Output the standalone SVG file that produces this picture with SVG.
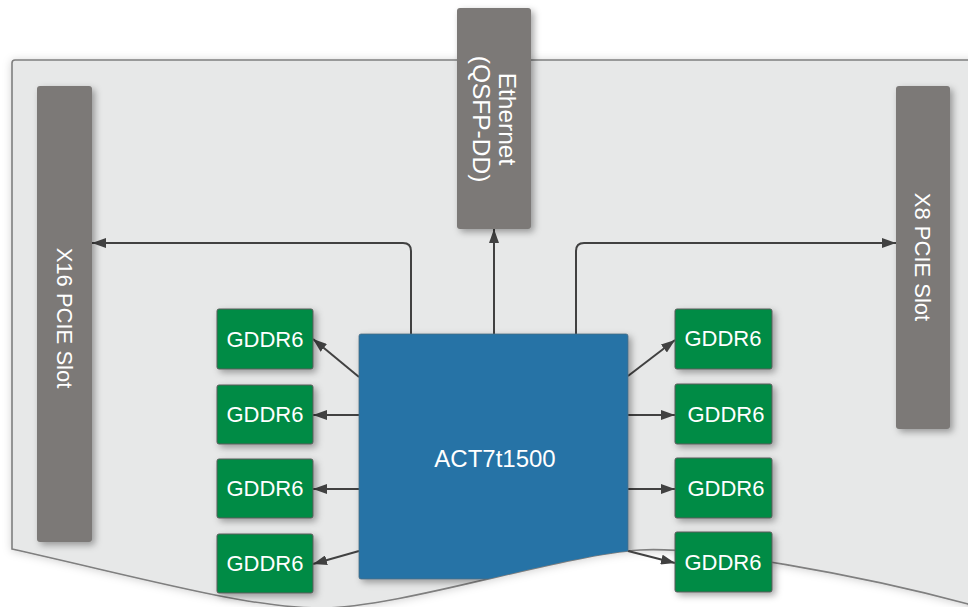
<svg xmlns="http://www.w3.org/2000/svg" width="968" height="607" viewBox="0 0 968 607">
<defs>
<style>
.txt{font-family:"Liberation Sans","DejaVu Sans",sans-serif;fill:#ffffff;}
.slot{fill:#7b7977;}
.mem{fill:#038b44;stroke:#5a5a5a;stroke-width:1;}
.conn{fill:none;stroke:#414141;stroke-width:2;}
</style>
<filter id="sh" x="-30%" y="-30%" width="160%" height="160%">
<feDropShadow dx="3" dy="3" stdDeviation="3.5" flood-color="#000" flood-opacity="0.35"/>
</filter>
<filter id="bsh" x="-10%" y="-10%" width="120%" height="120%">
<feDropShadow dx="0" dy="1" stdDeviation="4" flood-color="#000" flood-opacity="0.18"/>
</filter>
<marker id="arr" viewBox="0 0 14 10" refX="14" refY="5" markerWidth="14" markerHeight="10" markerUnits="userSpaceOnUse" orient="auto">
<path d="M0,0 L14,5 L0,10 Z" fill="#414141"/>
</marker>
<clipPath id="boardClip">
<path d="M12,63 Q12,60 15,60 L990,60 L990,620 L968,604 C860,575 700,546 640,550 C560,555 400,608 320,608 C250,608 150,580 12,549 Z"/>
</clipPath>
</defs>
<rect x="0" y="0" width="968" height="607" fill="#ffffff"/>
<g id="board">
<path d="M12,63 Q12,60 15,60 L990,60 L990,640 L968,604 C860,575 700,546 640,550 C560,555 400,608 320,608 C250,608 150,580 12,549 Z" fill="#e7e8e8" stroke="#7f7f7f" stroke-width="1.6" filter="url(#bsh)"/>
</g>
<g id="connectors">
<path class="conn" d="M411,334 L411,251 Q411,243 403,243 L92,243" marker-end="url(#arr)"/>
<path class="conn" d="M494,334 L494,229" marker-end="url(#arr)"/>
<path class="conn" d="M576,334 L576,251 Q576,243 584,243 L896,243" marker-end="url(#arr)"/>
<path class="conn" d="M359,377 L313,339" marker-end="url(#arr)"/>
<path class="conn" d="M359,415 L313,415" marker-end="url(#arr)"/>
<path class="conn" d="M359,489 L313,489" marker-end="url(#arr)"/>
<path class="conn" d="M359,551 L313,564" marker-end="url(#arr)"/>
<path class="conn" d="M628,376 L675,340" marker-end="url(#arr)"/>
<path class="conn" d="M628,415 L675,415" marker-end="url(#arr)"/>
<path class="conn" d="M628,489 L675,489" marker-end="url(#arr)"/>
<path class="conn" d="M628,551 L675,563" marker-end="url(#arr)"/>
</g>
<g id="x16-slot">
<rect class="slot" x="37" y="86" width="55" height="456" rx="3" filter="url(#sh)"/>
<text class="txt" font-size="22" text-anchor="middle" dominant-baseline="central" transform="translate(64,318) rotate(90)">X16 PCIE Slot</text>
</g>
<g id="ethernet">
<rect class="slot" x="457" y="8" width="74" height="221" rx="3" filter="url(#sh)"/>
<text class="txt" font-size="24.5" text-anchor="middle" dominant-baseline="central" transform="translate(495,119) rotate(90)"><tspan x="0" y="-13">Ethernet</tspan><tspan x="0" y="13">(QSFP-DD)</tspan></text>
</g>
<g id="x8-slot">
<rect class="slot" x="896" y="86" width="54" height="343" rx="3" filter="url(#sh)"/>
<text class="txt" font-size="22" text-anchor="middle" dominant-baseline="central" transform="translate(922,257) rotate(90)">X8 PCIE Slot</text>
</g>
<g id="chip" clip-path="url(#boardClip)">
<rect x="359" y="334" width="269" height="245" rx="2" fill="#2673a6" stroke="#4a6a80" stroke-width="0.8" filter="url(#sh)"/>
<text class="txt" x="495" y="458" font-size="24" text-anchor="middle" dominant-baseline="central">ACT7t1500</text>
</g>
<g id="gddr6-l1"><rect class="mem" x="217" y="309" width="96" height="60" rx="2" filter="url(#sh)"/><text class="txt" x="265" y="339" font-size="22" text-anchor="middle" dominant-baseline="central">GDDR6</text></g>
<g id="gddr6-l2"><rect class="mem" x="217" y="385" width="96" height="59" rx="2" filter="url(#sh)"/><text class="txt" x="265" y="414" font-size="22" text-anchor="middle" dominant-baseline="central">GDDR6</text></g>
<g id="gddr6-l3"><rect class="mem" x="217" y="459" width="96" height="59" rx="2" filter="url(#sh)"/><text class="txt" x="265" y="488" font-size="22" text-anchor="middle" dominant-baseline="central">GDDR6</text></g>
<g id="gddr6-l4"><rect class="mem" x="217" y="534" width="96" height="59" rx="2" filter="url(#sh)"/><text class="txt" x="265" y="563" font-size="22" text-anchor="middle" dominant-baseline="central">GDDR6</text></g>
<g id="gddr6-r1"><rect class="mem" x="675" y="309" width="97" height="60" rx="2" filter="url(#sh)"/><text class="txt" x="723" y="338" font-size="22" text-anchor="middle" dominant-baseline="central">GDDR6</text></g>
<g id="gddr6-r2"><rect class="mem" x="675" y="384" width="97" height="60" rx="2" filter="url(#sh)"/><text class="txt" x="726" y="414" font-size="22" text-anchor="middle" dominant-baseline="central">GDDR6</text></g>
<g id="gddr6-r3"><rect class="mem" x="675" y="458" width="97" height="60" rx="2" filter="url(#sh)"/><text class="txt" x="726" y="488" font-size="22" text-anchor="middle" dominant-baseline="central">GDDR6</text></g>
<g id="gddr6-r4"><rect class="mem" x="675" y="532" width="97" height="60" rx="2" filter="url(#sh)"/><text class="txt" x="723" y="562" font-size="22" text-anchor="middle" dominant-baseline="central">GDDR6</text></g>
</svg>
